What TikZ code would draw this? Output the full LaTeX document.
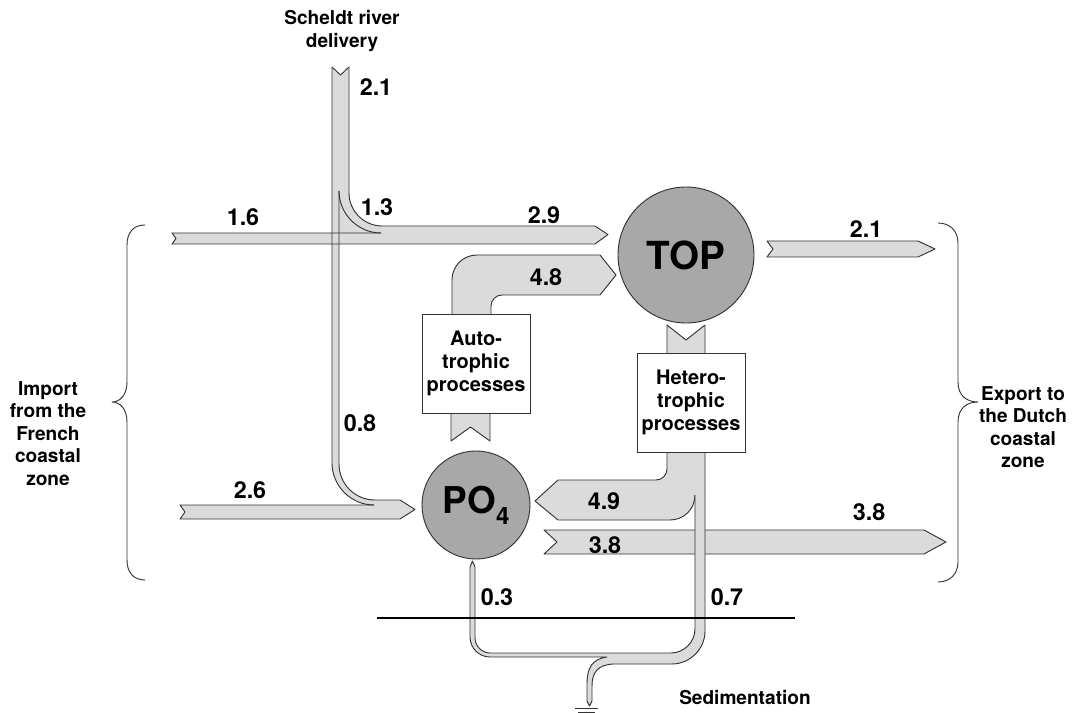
\documentclass[tikz,border=0pt]{standalone}
\usepackage{fontspec}
\setmainfont{TeX Gyre Heros}
\usepackage{tikz}
\definecolor{flowgray}{gray}{0.86}
\definecolor{poolgray}{gray}{0.66}
\definecolor{linegray}{gray}{0.2}
\newcommand{\valfont}{\fontsize{17.5}{20}\selectfont\bfseries}
\newcommand{\lblfont}{\fontsize{14.3}{16.8}\selectfont\bfseries}
\newcommand{\boxfont}{\fontsize{15}{17.3}\selectfont\bfseries}

\begin{document}
\begin{tikzpicture}[x=0.75pt,y=0.75pt,yscale=-1,xscale=1]
\tikzset{
  flow/.style={fill=flowgray},
  edge/.style={draw=linegray, line width=0.7pt, line join=round},
  pool/.style={circle, draw=linegray, line width=0.7pt, fill=poolgray, inner sep=0pt},
  procbox/.style={draw=linegray, line width=0.7pt, fill=white, align=center, font=\boxfont,
    inner sep=0pt, minimum width=81pt, minimum height=74.25pt},
  val/.style={font=\valfont, inner sep=0pt},
  lbl/.style={font=\lblfont, align=center, inner sep=0pt},
}
\useasboundingbox (0,0) rectangle (1079,713);

%Shape: river, 1.3 and 1.6 / 2.9
\fill[flow] (332,67) -- (340.5,75) -- (349,67) -- (349,193) .. controls (349,211) and (364,226) .. (382,226)
  -- (595,226) -- (608,234.5) -- (595,244) -- (172,244) -- (176,238.5) -- (172,233) -- (332,233) -- cycle ;
%Shape: 0.8 and 2.6
\fill[flow] (332,244) -- (332,463) .. controls (332,486) and (351,505) .. (374,505) -- (180,505) -- (185,512)
  -- (180,519) -- (400,519) -- (415,509.5) -- (400,500) -- (375,500) .. controls (355,500) and (339,484) .. (339,464)
  -- (339,244) -- cycle ;
%Shape: 4.8
\fill[flow] (452,314) -- (452,280) .. controls (452,266) and (463,255) .. (477,255) -- (600,255) -- (616,275)
  -- (600,295) -- (502,295) .. controls (496,295) and (491,300) .. (491,306) -- (491,314) -- cycle ;
\fill[flow] (451,413) -- (451,441) -- (470.5,427) -- (490,441) -- (490,413) -- cycle ;
%Shape: TOP to heterotrophic
\fill[flow] (667,353) -- (667,325) -- (686,340) -- (705,325) -- (705,353) -- cycle ;

%Straight Lines: outlines
\draw[edge] (332,67) -- (340.5,75) -- (349,67) ;
\draw[edge] (332,67) -- (332,463) .. controls (332,486) and (351,505) .. (374,505) ;
\draw[edge] (349,67) -- (349,193) .. controls (349,211) and (364,226) .. (382,226) -- (595,226) -- (608,234.5)
  -- (595,244) -- (172,244) -- (176,238.5) -- (172,233) -- (381,233) ;
\draw[edge] (339,191) .. controls (339,214) and (358,233) .. (381,233) ;
\draw[edge] (339,191) -- (339,464) .. controls (339,484) and (355,500) .. (375,500) -- (400,500) -- (415,509.5)
  -- (400,519) -- (180,519) -- (185,512) -- (180,505) -- (374,505) ;
\draw[edge] (452,314) -- (452,280) .. controls (452,266) and (463,255) .. (477,255) -- (600,255) -- (616,275)
  -- (600,295) -- (502,295) .. controls (496,295) and (491,300) .. (491,306) -- (491,314) ;
\draw[edge] (451,413) -- (451,441) -- (470.5,427) -- (490,441) -- (490,413) ;
\draw[edge] (667,353) -- (667,325) -- (686,340) -- (705,325) -- (705,353) ;

%Shape: exports
\filldraw[flow, edge] (767,241) -- (773,249) -- (767,257) -- (918,257) -- (935,249) -- (918,241) -- cycle ;
\filldraw[flow, edge] (544,530) -- (557,542) -- (544,554) -- (924,554) -- (946,542) -- (924,530) -- cycle ;

%Shape: 4.9 back to PO4
\fill[flow] (667,452) -- (667,469) .. controls (667,475) and (662,480) .. (656,480) -- (558,480) -- (535,501)
  -- (558,520) -- (670,520) .. controls (684,520) and (695,509) .. (695,495) -- (705,495) -- (705,452) -- cycle ;
\draw[edge] (667,452) -- (667,469) .. controls (667,475) and (662,480) .. (656,480) -- (558,480) -- (535,501)
  -- (558,520) -- (670,520) .. controls (684,520) and (695,509) .. (695,495) ;
%Shape: 0.7, 0.3 and sedimentation
\fill[flow] (695,490) -- (695,629) .. controls (695,642) and (684,653) .. (671,653) -- (490,653)
  .. controls (482,653) and (475,646) .. (475,638) -- (475,567) -- (472.5,561) -- (470,567) -- (470,637)
  .. controls (470,648) and (479,657) .. (490,657) -- (607,657) .. controls (592,659) and (587,668) .. (587,684)
  -- (587,701) -- (589.5,706) -- (592,701) -- (592,686) .. controls (592,672) and (598,665) .. (613,664)
  -- (672,664) .. controls (690,664) and (705,649) .. (705,631) -- (705,490) -- cycle ;
\draw[edge] (695,495) -- (695,629) .. controls (695,642) and (684,653) .. (671,653) -- (490,653)
  .. controls (482,653) and (475,646) .. (475,638) -- (475,567) -- (472.5,561) -- (470,567) -- (470,637)
  .. controls (470,648) and (479,657) .. (490,657) -- (607,657) .. controls (592,659) and (587,668) .. (587,684)
  -- (587,701) -- (589.5,706) -- (592,701) -- (592,686) .. controls (592,672) and (598,665) .. (613,664)
  -- (672,664) .. controls (690,664) and (705,649) .. (705,631) -- (705,452) ;

%Straight Lines: sediment surface and ground
\draw[line width=1.5pt] (377,618) -- (795,618) ;
\draw[edge] (575,708) -- (598,708) ;
\draw[edge] (578,712) -- (595,712) ;

%Shape: braces
\draw[edge] (145,225) .. controls (133,225) and (127,233) .. (127,245) -- (127,382)
  .. controls (127,395) and (120,402) .. (112,402) .. controls (120,402) and (127,409) .. (127,422)
  -- (127,560) .. controls (127,572) and (133,580) .. (145,580) ;
\draw[edge] (938,223) .. controls (950,223) and (958,231) .. (958,243) -- (958,382)
  .. controls (958,395) and (966,402) .. (978,402) .. controls (966,402) and (958,409) .. (958,422)
  -- (958,562) .. controls (958,574) and (950,582) .. (938,582) ;

% Pools and processes
\node[pool, minimum size=102pt] (top) at (686,255) {\fontsize{29}{30}\selectfont\bfseries TOP};
\node[pool, minimum size=81pt] (po4) at (476,505)
  {\fontsize{27.7}{30}\selectfont\bfseries PO\raisebox{-8pt}{\fontsize{18}{20}\selectfont 4}};
\node[procbox] (auto) at (476,363.5) {Auto-\\trophic\\processes};
\node[procbox] (hetero) at (691,402.5) {Hetero-\\trophic\\processes};

% Text Node
\node[lbl] (river) at (342,31) {Scheldt river\\delivery};
\node[lbl] (import) at (48,433.5) {Import\\from the\\French\\coastal\\zone};
\node[lbl] (export) at (1023,427) {Export to\\the Dutch\\coastal\\zone};
\node[lbl] (sedim) at (745,697.5) {Sedimentation};

% Text Node
\node[val] (riverin) at (376,87) {2.1};
\node[val] (riverbend) at (377,207) {1.3};
\node[val] (topin) at (544,215) {2.9};
\node[val] (frtop) at (243,217) {1.6};
\node[val] (riverdown) at (360,423) {0.8};
\node[val] (frpo) at (250,490) {2.6};
\node[val] (uptake) at (546,277) {4.8};
\node[val] (topout) at (866,229) {2.1};
\node[val] (remin) at (604,501) {4.9};
\node[val] (poout) at (605,545) {3.8};
\node[val] (nlout) at (869,512) {3.8};
\node[val] (sedhet) at (727,597) {0.7};
\node[val] (sedpo) at (497,597) {0.3};

\end{tikzpicture}
\end{document}
